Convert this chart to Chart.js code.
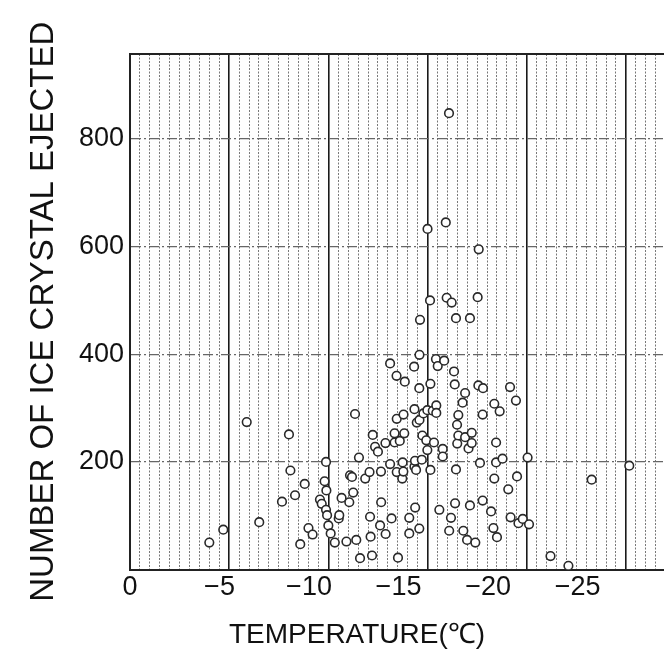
<!DOCTYPE html>
<html>
<head>
<meta charset="utf-8">
<script src="https://cdn.jsdelivr.net/npm/chart.js@4"></script>
<style>
  body { margin: 0; background: #fff; }
  #wrap { width: 664px; height: 653px; position: relative; }
</style>
</head>
<body>
<div id="wrap"><canvas id="iceChart"></canvas></div>
<script>
// temperature (deg C) and ice crystals ejected
const temperature = [
  -4.43, -5.21, -6.52, -7.22, -8.49, -8.88, -8.96, -9.22, -9.51, -9.76,
  -9.97, -10.2, -10.61, -10.71, -10.87, -10.95, -10.97, -10.95, -11.01, -11.08,
  -11.21, -11.44, -11.66, -11.69, -11.82, -12.09, -12.25, -12.29, -12.4, -12.47,
  -12.57, -12.64, -12.79, -12.85, -13.14, -13.38, -13.41, -13.44, -13.52, -13.56,
  -13.69, -13.85, -14.02, -14.03, -13.97, -14.27, -14.28, -14.53, -14.53, -14.61,
  -14.78, -14.78, -14.89, -14.9, -14.9, -14.97, -15.07, -15.21, -15.23, -15.27,
  -15.28, -15.32, -15.35, -15.6, -15.6, -15.87, -15.89, -15.89, -15.92, -15.93,
  -15.98, -16.02, -16.17, -16.16, -16.16, -16.17, -16.2, -16.3, -16.33, -16.39,
  -16.55, -16.61, -16.61, -16.62, -16.76, -16.78, -16.78, -16.91, -16.98, -17.11,
  -17.11, -17.09, -17.19, -17.28, -17.47, -17.47, -17.55, -17.64, -17.69, -17.82,
  -17.83, -17.93, -17.97, -18.1, -18.14, -18.16, -18.21, -18.21, -18.27, -18.28,
  -18.34, -18.34, -18.58, -18.62, -18.72, -18.72, -18.83, -18.91, -18.99, -18.99,
  -19.09, -19.09, -19.29, -19.42, -19.46, -19.48, -19.55, -19.7, -19.7, -19.72,
  -20.17, -20.3, -20.35, -20.35, -20.45, -20.45, -20.5, -20.65, -20.81, -21.13,
  -21.23, -21.26, -21.56, -21.62, -21.7, -21.94, -22.21, -22.29, -23.49, -24.49,
  -25.79, -27.89
];
const iceCrystals = [
  50, 74, 274, 88, 126, 251, 184, 138, 47, 159,
  77, 65, 130, 122, 164, 200, 147, 111, 101, 82,
  67, 50, 95, 101, 133, 52, 125, 175, 172, 143,
  289, 55, 208, 21, 169, 181, 98, 61, 26, 250,
  228, 219, 182, 125, 82, 235, 66, 196, 383, 95,
  253, 236, 360, 280, 181, 22, 239, 169, 199, 182,
  288, 253, 349, 96, 67, 377, 298, 191, 202, 115,
  185, 273, 278, 337, 76, 399, 464, 204, 249, 290,
  240, 296, 222, 633, 500, 345, 185, 295, 236, 305,
  291, 391, 378, 111, 224, 210, 388, 645, 505, 848,
  72, 96, 496, 368, 344, 123, 467, 186, 269, 234,
  249, 287, 310, 72, 246, 328, 55, 225, 467, 119,
  254, 235, 50, 506, 342, 595, 198, 288, 128, 337,
  108, 77, 308, 169, 236, 199, 60, 294, 206, 149,
  339, 97, 314, 173, 86, 94, 208, 84, 25, 7,
  167, 193
];
const xTickValues = [0, -5, -10, -15, -20, -25];
const yTickValues = [200, 400, 600, 800];
const xLabelMin = -29.83;   // label axis runs further than the ruled grid
const gridMin = -26.92;     // ruled paper, 0.5 degree lines
const gridStep = 0.5;
const yMax = 958;

const yTitle = 'NUMBER OF ICE CRYSTAL EJECTED';
const xTitle = 'TEMPERATURE(\u2103)';
const fontFamily = '"Liberation Sans", Arial, Helvetica, sans-serif';
const ink = '#111';

function isMajor(v) {
  return v !== 0 && Math.abs(v % 5) < 1e-6;
}

const xTitlePlugin = {
  id: 'xTitle',
  afterDraw(chart) {
    const c = chart.ctx;
    const area = chart.chartArea;
    c.save();
    c.font = '28px ' + fontFamily;
    c.fillStyle = ink;
    c.textAlign = 'center';
    c.textBaseline = 'middle';
    c.fillText(xTitle, area.left + 227, area.bottom + 66);
    c.restore();
  }
};

let ctx = document.getElementById('iceChart').getContext('2d');
let chart = new Chart(ctx, {
  type: 'scatter',
  data: {
    datasets: [{
      data: temperature.map((t, i) => ({ x: t, y: iceCrystals[i] })),
      pointRadius: 4.3,
      pointBorderWidth: 1.6,
      pointBorderColor: '#2a2a2a',
      pointBackgroundColor: '#fff',
      pointHoverRadius: 4.3
    }]
  },
  options: {
    responsive: true,
    maintainAspectRatio: false,
    animation: false,
    layout: { autoPadding: false, padding: { top: 54, right: 0, bottom: 0, left: 0 } },
    plugins: {
      legend: { display: false },
      tooltip: { enabled: false }
    },
    scales: {
      x: {
        type: 'linear',
        position: 'bottom',
        reverse: true,
        min: xLabelMin,
        max: 0,
        afterBuildTicks: s => { s.ticks = xTickValues.map(v => ({ value: v })); },
        afterFit: s => { s.height = 83.5; },
        grid: { display: false, drawTicks: false },
        border: { display: true, color: '#222', width: 2 },
        ticks: {
          font: { family: fontFamily, size: 27 },
          color: ink,
          padding: 2,
          maxRotation: 0,
          autoSkip: false,
          callback: v => v === 0 ? '0' : '\u2212' + Math.abs(v)
        }
      },
      xg: {
        type: 'linear',
        position: 'bottom',
        reverse: true,
        min: gridMin,
        max: 0,
        afterBuildTicks: s => {
          let t = [];
          for (let v = 0; v >= gridMin; v -= gridStep) t.push({ value: +v.toFixed(1) });
          s.ticks = t;
        },
        afterFit: s => { s.height = 0; },
        ticks: { display: false },
        grid: {
          drawTicks: false,
          color: c => c.tick && isMajor(c.tick.value) ? '#1a1a1a' : 'rgba(30,30,30,0.6)',
          lineWidth: c => c.tick && isMajor(c.tick.value) ? 1.6 : 1
        },
        border: {
          display: false,
          dash: c => c.tick && !isMajor(c.tick.value) ? [2, 1.5] : []
        }
      },
      y: {
        type: 'linear',
        position: 'left',
        min: 0,
        max: yMax,
        afterBuildTicks: s => { s.ticks = yTickValues.concat([yMax]).map(v => ({ value: v })); },
        afterFit: s => { s.width = 130; },
        ticks: {
          font: { family: fontFamily, size: 27 },
          color: ink,
          padding: 6,
          callback: v => v === yMax ? '' : v
        },
        grid: {
          drawTicks: false,
          color: c => c.tick && c.tick.value === yMax ? '#222' : '#666',
          lineWidth: c => c.tick && c.tick.value === yMax ? 2 : 1.2
        },
        border: {
          display: true,
          color: '#222',
          width: 2,
          dash: c => c.tick && c.tick.value !== yMax ? [10, 3, 2, 3] : []
        },
        title: {
          display: true,
          text: yTitle,
          color: ink,
          font: { family: fontFamily, size: 33 },
          padding: { top: 24, bottom: 0 }
        }
      }
    }
  },
  plugins: [xTitlePlugin]
});
</script>
</body>
</html>
